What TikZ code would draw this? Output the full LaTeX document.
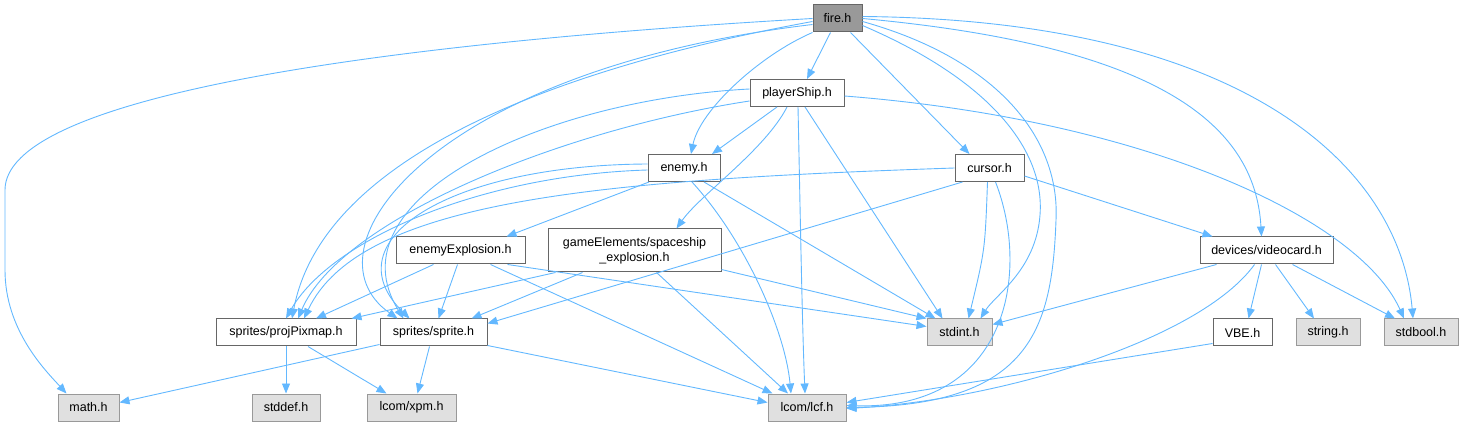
\documentclass[tikz,border=0pt]{standalone}
\usepackage{fontspec}
\setmainfont{Liberation Sans}
\usepackage{tikz}
\usetikzlibrary{arrows.meta, positioning}
\definecolor{edgeblue}{HTML}{63B8FF}

\begin{document}
\begin{tikzpicture}[
    x=1pt, y=-1pt,
    every node/.style={font=\fontsize{12.5}{15}\selectfont},
    hdr/.style={draw=black!60, fill=white, line width=1pt, minimum height=27pt, inner sep=0pt},
    syshdr/.style={hdr, draw=black!40, fill=black!12},
    dep/.style={draw=edgeblue, line width=0.9pt, -{Triangle[length=10pt,width=8pt]}},
  ]
  \useasboundingbox (0,0) rectangle (1464,427);
  % headers
  \node[hdr, fill=black!40, minimum width=49pt] (fire) at (837.5,18.5) {fire.h};
  \node[hdr, minimum width=94pt] (playerShip) at (797,93) {playerShip.h};
  \node[hdr, minimum width=72pt] (enemy) at (684,168) {enemy.h};
  \node[hdr, minimum width=69pt] (cursor) at (989.5,168) {cursor.h};
  \node[hdr, minimum width=129pt] (enemyExplosion) at (460.5,250.5) {enemyExplosion.h};
  \node[hdr, minimum width=173pt, minimum height=43pt, align=center] (spaceship) at (634.5,250.5) {gameElements/spaceship\\\_explosion.h};
  \node[hdr, minimum width=133pt] (videocard) at (1266.5,250.5) {devices/videocard.h};
  \node[hdr, minimum width=140pt] (projPixmap) at (286,332.5) {sprites/projPixmap.h};
  \node[hdr, minimum width=107pt] (sprite) at (433.5,332.5) {sprites/sprite.h};
  \node[hdr, minimum width=59pt] (VBE) at (1242.5,332.5) {VBE.h};
  \node[syshdr, minimum width=65pt] (stdint) at (959.5,332.5) {stdint.h};
  \node[syshdr, minimum width=64pt] (string) at (1328,332.5) {string.h};
  \node[syshdr, minimum width=74pt] (stdbool) at (1421,332.5) {stdbool.h};
  \node[syshdr, minimum width=61pt] (math) at (88.5,407.5) {math.h};
  \node[syshdr, minimum width=68pt] (stddef) at (286,407.5) {stddef.h};
  \node[syshdr, minimum width=89pt] (xpm) at (411.5,407.5) {lcom/xpm.h};
  \node[syshdr, minimum width=78pt] (lcf) at (807,407.5) {lcom/lcf.h};

  % fire.h
  \draw[dep] (fire.west) .. controls (350,45) and (5,100) .. (5,190) -- (5,270) .. controls (5,330) and (45,370) .. ([xshift=-22pt]math.north);
  \draw[dep] ([yshift=-3pt]fire.west) .. controls (520,75) and (320,170) .. ([xshift=6pt]projPixmap.north);
  \draw[dep] ([yshift=-6pt]fire.west) .. controls (430,70) and (300,250) .. ([xshift=-36pt]sprite.north);
  \draw[dep] (fire.south west) .. controls (760,55) and (700,110) .. ([xshift=7pt]enemy.north);
  \draw[dep] ([xshift=-7pt]fire.south) -- ([xshift=10pt]playerShip.north);
  \draw[dep] ([xshift=13pt]fire.south) -- ([xshift=-20pt]cursor.north);
  \draw[dep] ([yshift=-7pt]fire.east) .. controls (990,80) and (1045,150) .. (1040,215) .. controls (1036,270) and (995,295) .. ([xshift=21pt]stdint.north);
  \draw[dep] ([yshift=-3pt]fire.east) .. controls (1000,60) and (1060,140) .. (1056,220) .. controls (1052,330) and (1030,405) .. (lcf.east);
  \draw[dep] (fire.east) .. controls (1150,45) and (1255,120) .. ([xshift=-5pt]videocard.north);
  \draw[dep] ([yshift=2pt]fire.east) .. controls (1250,20) and (1400,170) .. ([xshift=-8pt]stdbool.north);

  % playerShip.h
  \draw[dep] ([xshift=-20pt]playerShip.south) -- ([xshift=28pt]enemy.north);
  \draw[dep] ([yshift=4pt]playerShip.west) .. controls (540,100) and (330,200) .. ([xshift=-30pt]sprite.north);
  \draw[dep] ([yshift=-8pt]playerShip.west) .. controls (560,130) and (340,220) .. ([xshift=12pt]projPixmap.north);
  \draw[dep] ([xshift=-10pt]playerShip.south) .. controls (765,150) and (700,195) .. ([xshift=42pt]spaceship.north);
  \draw[dep] ([xshift=1pt]playerShip.south) .. controls (800,200) and (802,320) .. ([xshift=-2pt]lcf.north);
  \draw[dep] ([xshift=8pt]playerShip.south) -- ([xshift=-17pt]stdint.north);
  \draw[dep] ([yshift=-3pt]playerShip.east) .. controls (1150,120) and (1360,220) .. ([xshift=-17pt]stdbool.north);

  % enemy.h
  \draw[dep] ([yshift=4pt]enemy.west) .. controls (450,165) and (330,240) .. ([xshift=-24pt]sprite.north);
  \draw[dep] ([yshift=-2pt]enemy.west) .. controls (480,175) and (330,240) .. (projPixmap.north);
  \draw[dep] ([xshift=-35pt]enemy.south) -- ([xshift=46pt]enemyExplosion.north);
  \draw[dep] ([xshift=8pt]enemy.south) .. controls (745,240) and (785,330) .. ([xshift=-16pt]lcf.north);
  \draw[dep] ([xshift=20pt]enemy.south) -- ([xshift=-24pt]stdint.north);

  % cursor.h
  \draw[dep] (cursor.west) .. controls (600,180) and (360,200) .. ([xshift=18pt]projPixmap.north);
  \draw[dep] ([xshift=-27pt]cursor.south) -- ([yshift=9pt]sprite.east);
  \draw[dep] ([xshift=-2pt]cursor.south) .. controls (985,250) .. ([xshift=9pt]stdint.north);
  \draw[dep] ([xshift=6pt]cursor.south) .. controls (1030,270) and (1010,410) .. ([yshift=2pt]lcf.east);
  \draw[dep] ([yshift=-8pt]cursor.east) -- ([xshift=-54pt]videocard.north);

  % enemyExplosion.h
  \draw[dep] ([xshift=-27pt]enemyExplosion.south) -- ([xshift=30pt]projPixmap.north);
  \draw[dep] ([xshift=-3pt]enemyExplosion.south) -- ([xshift=5pt]sprite.north);
  \draw[dep] ([xshift=30pt]enemyExplosion.south) -- ([xshift=5pt]lcf.north west);
  \draw[dep] ([xshift=47pt]enemyExplosion.south) -- ([yshift=6pt]stdint.west);

  % gameElements/spaceship_explosion.h
  \draw[dep] ([xshift=8pt]spaceship.south west) -- ([xshift=-5pt]projPixmap.north east);
  \draw[dep] ([xshift=-52pt]spaceship.south) -- ([xshift=38pt]sprite.north);
  \draw[dep] ([xshift=22pt]spaceship.south) -- ([xshift=-19pt]lcf.north);
  \draw[dep] ([yshift=3pt]spaceship.south east) -- (stdint.north west);

  % sprites
  \draw[dep] (projPixmap.south) -- (stddef.north);
  \draw[dep] ([xshift=22pt]projPixmap.south) -- ([xshift=-25pt]xpm.north);
  \draw[dep] ([yshift=2pt]sprite.south west) -- ([yshift=5pt]math.east);
  \draw[dep] ([xshift=-4pt]sprite.south) -- ([xshift=6pt]xpm.north);
  \draw[dep] ([yshift=1pt]sprite.south east) -- ([yshift=5pt]lcf.west);

  % devices/videocard.h
  \draw[dep] ([xshift=-50pt]videocard.south) -- ([yshift=8pt]stdint.east);
  \draw[dep] ([xshift=-5pt]videocard.south) -- ([xshift=6pt]VBE.north);
  \draw[dep] ([xshift=9pt]videocard.south) -- ([xshift=-14pt]string.north);
  \draw[dep] ([xshift=26pt]videocard.south) -- ([xshift=-26pt]stdbool.north);
  \draw[dep] ([xshift=-12pt]videocard.south) .. controls (1200,340) and (1000,400) .. ([yshift=-1pt]lcf.east);
  \draw[dep] ([yshift=3pt]VBE.south west) -- ([yshift=5pt]lcf.east);
\end{tikzpicture}
\end{document}
